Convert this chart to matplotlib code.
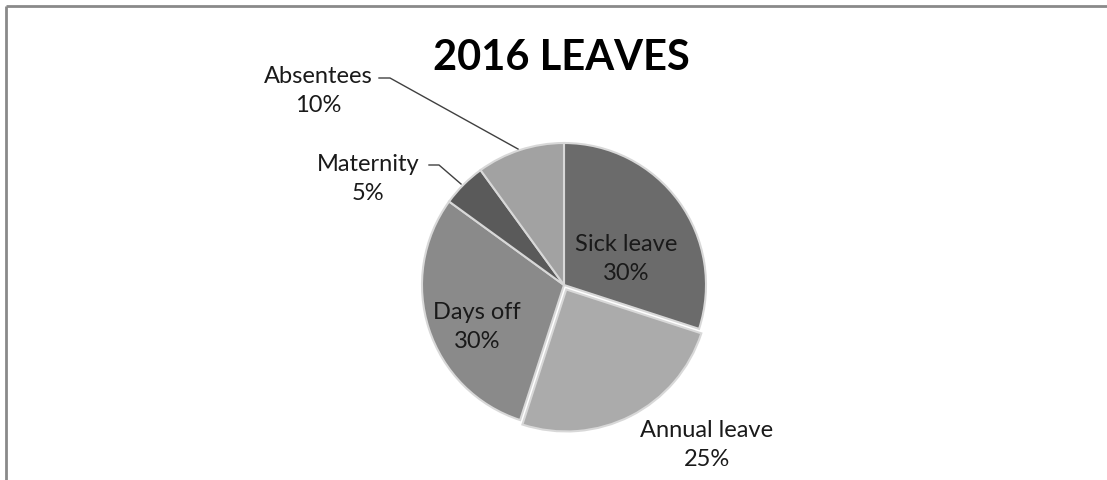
import numpy as np
import matplotlib
matplotlib.use('Agg')
import matplotlib.pyplot as plt

categories = ['Sick leave', 'Annual leave', 'Days off', 'Maternity', 'Absentees']
shares = [30, 25, 30, 5, 10]
colors = ['#6b6b6b', '#ababab', '#8a8a8a', '#5a5a5a', '#a2a2a2']

plt.rcParams['font.family'] = ['Lato', 'DejaVu Sans']

W, H = 1107, 481
fig = plt.figure(figsize=(W / 100, H / 100), dpi=100)
ax = fig.add_axes([0, 0, 1, 1])

cx, cy, r = 564, H - 286, 142
wedges, _ = ax.pie(shares, colors=colors, startangle=90, counterclock=False,
                   center=(cx, cy), radius=r, explode=[0, 5, 0, 0, 0],
                   wedgeprops=dict(edgecolor='#d8d8d8', linewidth=1.5))
ax.set_xlim(0, W)
ax.set_ylim(0, H)
ax.set_aspect('equal')
ax.axis('off')

# frame of the chart area (top and left edges visible)
ax.plot([6, W], [H - 7, H - 7], color='#8a8a8a', lw=2, solid_capstyle='butt')
ax.plot([6, 6], [0, H - 7], color='#8a8a8a', lw=2, solid_capstyle='butt')

ax.text(561, H - 58, '2016 LEAVES', ha='center', va='center',
        fontsize=30, fontweight='bold', color='black')

fs = 17
lab = dict(ha='center', va='center', fontsize=fs, color='#1a1a1a', linespacing=1.5)
ax.text(626, H - 259, 'Sick leave\n30%', **lab)
ax.text(477, H - 327, 'Days off\n30%', **lab)
ax.text(707, H - 445, 'Annual leave\n25%', **lab)
ax.text(318, H - 91, 'Absentees\n10%', **lab)
ax.text(368, H - 179, 'Maternity\n5%', **lab)

# leader lines
ax.plot([379, 390, 518], [H - 79, H - 79, H - 150], color='#404040', lw=1)
ax.plot([429, 439, 461], [H - 166, H - 166, H - 185], color='#404040', lw=1)

plt.savefig('out.png', dpi=100)
